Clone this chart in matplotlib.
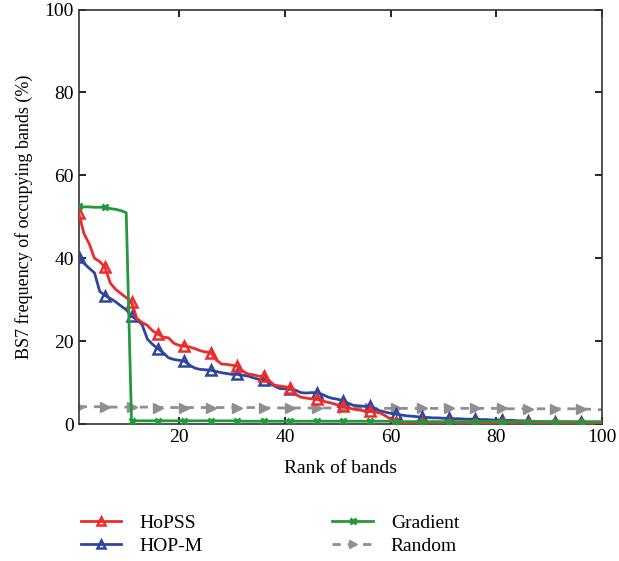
import matplotlib
matplotlib.use("Agg")
import matplotlib.pyplot as plt

plt.rcParams["font.family"] = ["Liberation Serif", "DejaVu Serif"]

# rank of bands 1..100
ranks = list(range(1, 101))

hopss = [51.0, 46.0, 43.5, 40.0, 39.2, 37.8, 34.0, 32.5, 31.5, 30.5,
         29.5, 25.5, 24.5, 23.8, 22.5, 21.7, 21.0, 20.8, 19.5, 19.0,
         18.8, 18.6, 18.2, 17.7, 17.4, 17.2, 15.5, 14.5, 14.4, 14.2,
         14.0, 12.8, 12.1, 11.9, 11.6, 11.5, 10.5, 9.4, 9.2, 9.0,
         8.8, 7.2, 6.5, 6.3, 6.1, 6.0, 5.6, 5.3, 5.0, 4.6,
         4.3, 3.9, 3.6, 3.4, 3.2, 3.1, 2.9, 2.7, 2.0, 1.2,
         0.6, 0.4, 0.3, 0.3, 0.3, 0.3, 0.2, 0.1, 0.0, 0.0,
         0.0, 0.0, 0.0, 0.0, 0.0, 0.0, 0.0, 0.0, 0.0, 0.0,
         0.0, 0.0, 0.0, 0.0, 0.0, 0.0, 0.0, 0.0, 0.0, 0.0,
         0.0, 0.0, 0.0, 0.0, 0.0, 0.0, 0.0, 0.0, 0.0, 0.0]

hop_m = [40.3, 38.8, 37.6, 36.5, 32.0, 31.0, 30.3, 29.5, 28.5, 27.6,
         26.0, 25.2, 24.0, 20.5, 19.2, 18.2, 17.2, 16.0, 15.6, 15.4,
         15.2, 14.2, 13.5, 13.2, 13.1, 13.0, 12.7, 12.4, 12.2, 12.0,
         12.0, 11.8, 11.6, 11.2, 10.8, 10.7, 10.0, 9.2, 8.6, 8.5,
         8.4, 8.2, 7.6, 7.5, 7.6, 7.6, 7.2, 6.6, 6.2, 6.0,
         5.6, 5.0, 4.5, 4.4, 4.3, 4.3, 3.8, 3.2, 2.9, 2.6,
         2.4, 2.2, 2.0, 1.9, 1.8, 1.6, 1.6, 1.5, 1.5, 1.4,
         1.4, 1.3, 1.3, 1.2, 1.2, 1.2, 1.1, 1.1, 1.0, 1.0,
         1.0, 0.9, 0.9, 0.8, 0.8, 0.7, 0.6, 0.6, 0.6, 0.5,
         0.5, 0.5, 0.5, 0.5, 0.4, 0.4, 0.4, 0.4, 0.4, 0.4]

gradient = [52.5, 52.4, 52.4, 52.3, 52.3, 52.3, 52.0, 51.8, 51.5, 51.0,
            0.8, 0.8, 0.8, 0.8, 0.8, 0.8, 0.8, 0.8, 0.8, 0.8,
            0.8, 0.8, 0.8, 0.8, 0.8, 0.8, 0.8, 0.8, 0.8, 0.8,
            0.7, 0.7, 0.7, 0.7, 0.7, 0.7, 0.7, 0.7, 0.7, 0.7,
            0.7, 0.7, 0.7, 0.7, 0.7, 0.7, 0.7, 0.7, 0.7, 0.7,
            0.7, 0.7, 0.7, 0.7, 0.7, 0.7, 0.7, 0.7, 0.7, 0.7,
            0.6, 0.6, 0.6, 0.6, 0.6, 0.6, 0.6, 0.6, 0.6, 0.6,
            0.6, 0.6, 0.6, 0.6, 0.6, 0.6, 0.6, 0.6, 0.6, 0.6,
            0.6, 0.6, 0.6, 0.6, 0.6, 0.6, 0.6, 0.6, 0.6, 0.6,
            0.6, 0.6, 0.6, 0.6, 0.6, 0.6, 0.6, 0.6, 0.6, 0.6]

random_sel = [4.2, 4.2, 4.2, 4.2, 4.2, 4.1, 4.1, 4.1, 4.1, 4.1,
              4.1, 4.1, 4.1, 4.1, 4.1, 4.0, 4.0, 4.0, 4.0, 4.0,
              4.0, 4.0, 4.0, 4.0, 4.0, 4.0, 4.0, 4.0, 4.0, 4.0,
              4.0, 4.0, 4.0, 4.0, 4.0, 3.9, 3.9, 3.9, 3.9, 3.9,
              3.9, 3.9, 3.9, 3.9, 3.9, 3.9, 3.9, 3.9, 3.9, 3.9,
              3.9, 3.9, 3.9, 3.9, 3.9, 3.8, 3.8, 3.8, 3.8, 3.8,
              3.8, 3.8, 3.8, 3.8, 3.8, 3.8, 3.8, 3.8, 3.8, 3.8,
              3.8, 3.8, 3.8, 3.8, 3.8, 3.8, 3.8, 3.8, 3.8, 3.8,
              3.8, 3.7, 3.7, 3.7, 3.7, 3.7, 3.7, 3.7, 3.7, 3.7,
              3.7, 3.7, 3.7, 3.7, 3.7, 3.7, 3.6, 3.6, 3.5, 3.5]

fig = plt.figure(figsize=(6.19, 5.61), dpi=100)
ax = fig.add_axes([0.127, 0.244, 0.846, 0.739])

mk = list(range(0, 100, 5))
ax.plot(ranks, hopss, color="#ee2b2b", lw=2.0, marker="^", ms=7, mew=1.8,
        mfc="none", markevery=mk, label="HoPSS", zorder=4)
ax.plot(ranks, hop_m, color="#2e46a0", lw=2.0, marker="^", ms=7, mew=1.8,
        mfc="none", markevery=mk, label="HOP-M", zorder=3)
ax.plot(ranks, gradient, color="#23993c", lw=2.0, marker="x", ms=5, mew=2.0,
        markevery=mk, label="Gradient", zorder=5)
ax.plot(ranks, random_sel, color="#8f8f8f", lw=2.0, ls=(0, (3, 2.5)), marker=">",
        ms=7, markevery=mk, label="Random", zorder=2)

ax.set_xlim(1, 100)
ax.set_ylim(0, 100)
ax.set_xticks([20, 40, 60, 80, 100])
ax.set_yticks([0, 20, 40, 60, 80, 100])
ax.tick_params(direction="in", top=True, right=True, labelsize=14, length=5, width=1.2)
for s in ax.spines.values():
    s.set_linewidth(1.2)
    s.set_color("#333333")

ax.set_xlabel("Rank of bands", fontsize=14, labelpad=10)
ax.set_ylabel("BS7 frequency of occupying bands (%)", fontsize=13, labelpad=8)

fig.legend(loc="lower left", bbox_to_anchor=(0.102, -0.02), ncol=2, frameon=False,
           fontsize=14, handlelength=2.1, handletextpad=0.9, columnspacing=6.7,
           labelspacing=0.25, markerscale=0.9)

fig.savefig("out.png", dpi=100)
